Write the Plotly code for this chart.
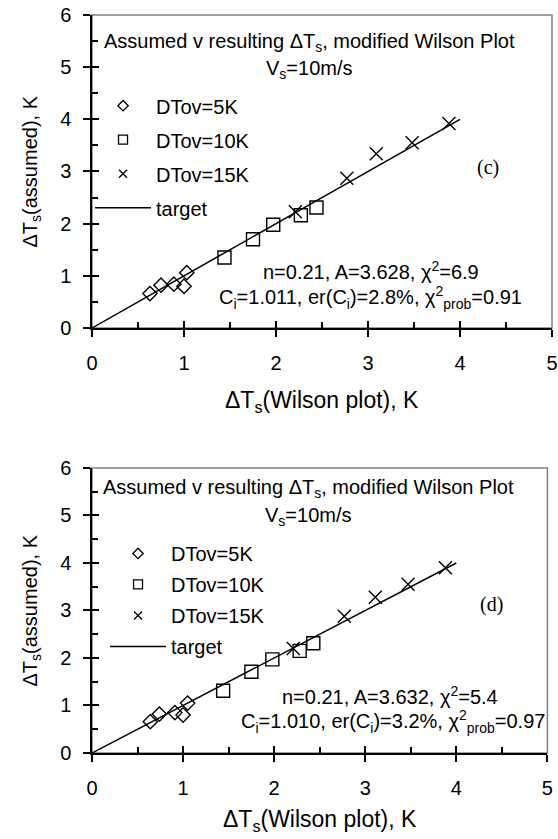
import plotly.graph_objects as go

# ---- data ----
c_5K_x = [0.63, 0.75, 0.89, 1.00, 1.03]
c_5K_y = [0.66, 0.82, 0.84, 0.80, 1.06]
c_10K_x = [1.44, 1.75, 1.97, 2.27, 2.44]
c_10K_y = [1.35, 1.70, 1.98, 2.16, 2.31]
c_15K_x = [2.21, 2.77, 3.09, 3.48, 3.88]
c_15K_y = [2.23, 2.87, 3.34, 3.55, 3.92]

d_5K_x = [0.64, 0.74, 0.91, 1.00, 1.05]
d_5K_y = [0.66, 0.82, 0.85, 0.80, 1.05]
d_10K_x = [1.44, 1.75, 1.98, 2.28, 2.43]
d_10K_y = [1.31, 1.71, 1.97, 2.15, 2.31]
d_15K_x = [2.21, 2.77, 3.11, 3.47, 3.88]
d_15K_y = [2.20, 2.88, 3.28, 3.55, 3.90]

target_x = [0, 4]
target_y = [0, 4]

series_names = ["DTov=5K", "DTov=10K", "DTov=15K", "target"]
x_ticks = [0, 1, 2, 3, 4, 5]
y_ticks = [0, 1, 2, 3, 4, 5, 6]
x_title = "ΔT<sub>s</sub>(Wilson plot), K"
y_title = "ΔT<sub>s</sub>(assumed), K"

FONT = "Arial, Liberation Sans, sans-serif"
SERIF = "Times New Roman, Liberation Serif, serif"

sym = ["diamond-open", "square-open", "x-thin-open"]
msize = [11, 13, 13]
lsize = [8, 9, 8]

fig = go.Figure()

panels = [
    dict(xa="x", ya="y", lg="legend",
         data=[(c_5K_x, c_5K_y), (c_10K_x, c_10K_y), (c_15K_x, c_15K_y)]),
    dict(xa="x2", ya="y2", lg="legend2",
         data=[(d_5K_x, d_5K_y), (d_10K_x, d_10K_y), (d_15K_x, d_15K_y)]),
]

for pi, p in enumerate(panels):
    fig.add_trace(go.Scatter(x=target_x, y=target_y, mode="lines",
                             line=dict(color="black", width=1.5),
                             name=series_names[3], legend=p["lg"],
                             legendgroup=f"p{pi}g3", showlegend=False,
                             xaxis=p["xa"], yaxis=p["ya"]))
    for i, (xs, ys) in enumerate(p["data"]):
        fig.add_trace(go.Scatter(x=xs, y=ys, mode="markers",
                                 marker=dict(symbol=sym[i], size=msize[i], color="black",
                                             line=dict(color="black", width=1.4)),
                                 showlegend=False, xaxis=p["xa"], yaxis=p["ya"]))
    for i in range(3):
        fig.add_trace(go.Scatter(x=[None], y=[None], mode="markers",
                                 marker=dict(symbol=sym[i], size=lsize[i], color="black",
                                             line=dict(color="black", width=1.3)),
                                 name=series_names[i], legend=p["lg"],
                                 legendgroup=f"p{pi}g{i}",
                                 xaxis=p["xa"], yaxis=p["ya"]))
    fig.add_trace(go.Scatter(x=[None], y=[None], mode="lines",
                             line=dict(color="black", width=1.5),
                             name=series_names[3], legend=p["lg"],
                             legendgroup=f"p{pi}g3",
                             xaxis=p["xa"], yaxis=p["ya"]))

# empty traces so the overlay tick axes get drawn
fig.add_trace(go.Scatter(x=[], y=[], xaxis="x3", yaxis="y3", showlegend=False))
fig.add_trace(go.Scatter(x=[], y=[], xaxis="x4", yaxis="y4", showlegend=False))

tickfont = dict(family=FONT, size=20, color="black")


def main_axis(rng, dom, anchor, is_x):
    return dict(range=rng, domain=dom, anchor=anchor, showline=True, linecolor="black",
                linewidth=1.5, ticks="outside", ticklen=7, tickwidth=1.5, tickcolor="black",
                tickmode="array", tickvals=x_ticks if is_x else y_ticks,
                showgrid=False, zeroline=False, tickfont=tickfont, automargin=False,
                ticklabeloverflow="allow",
                ticklabelstandoff=9 if is_x else 8, fixedrange=True)


def overlay_axis(rng, over, anchor):
    return dict(range=rng, overlaying=over, anchor=anchor, showline=False,
                ticks="inside", ticklen=7, tickwidth=1.5, tickcolor="black",
                dtick=1, tick0=0, showticklabels=False, showgrid=False, zeroline=False,
                minor=dict(ticks="inside", ticklen=6, tickwidth=1.5, tickcolor="black",
                           dtick=0.5, tick0=0, showgrid=False),
                automargin=False, fixedrange=True)


top_dom = [0.5759, 1.0]
bot_dom = [0.0, 0.3862]

legfont = dict(family=FONT, size=20, color="black")

fig.update_layout(
    width=558, height=839,
    margin=dict(l=92, r=6, t=15, b=86),
    paper_bgcolor="white", plot_bgcolor="white",
    font=dict(family=FONT, color="black"),
    xaxis=main_axis([0, 5], [0, 1.0], "y", True),
    yaxis=main_axis([0, 6], top_dom, "x", False),
    xaxis2=main_axis([0, 5], [0, 0.990], "y2", True),
    yaxis2=main_axis([0, 6], bot_dom, "x2", False),
    xaxis3=overlay_axis([0, 5], "x", "y3"),
    yaxis3=overlay_axis([0, 6], "y", "x3"),
    xaxis4=overlay_axis([0, 5], "x2", "y4"),
    yaxis4=overlay_axis([0, 6], "y2", "x4"),
    legend=dict(x=-0.0043, y=0.9035, xanchor="left", yanchor="top",
                bgcolor="rgba(0,0,0,0)", borderwidth=0, itemwidth=56,
                traceorder="grouped", tracegroupgap=5, font=legfont),
    legend2=dict(x=0.0283, y=0.2968, xanchor="left", yanchor="top",
                 bgcolor="rgba(0,0,0,0)", borderwidth=0, itemwidth=56,
                 traceorder="grouped", tracegroupgap=2, font=legfont),
    showlegend=True,
)

# gray frame (top/right borders)
for xr, yr in [("x domain", "y domain"), ("x2 domain", "y2 domain")]:
    fig.add_shape(type="rect", xref=xr, yref=yr, x0=0, x1=1, y0=0, y1=1,
                  line=dict(color="#808080", width=1.5), layer="below")

# axis titles
xtfont = dict(family=FONT, size=23, color="black")
ytfont = dict(family=FONT, size=20, color="black")
for xr, yr, ysh in [("x domain", "y domain", -74), ("x2 domain", "y2 domain", -67)]:
    fig.add_annotation(xref=xr, yref=yr, x=0.5, y=0, yshift=ysh, text=x_title,
                       showarrow=False, xanchor="center", yanchor="middle", font=xtfont)
    fig.add_annotation(xref=xr, yref=yr, x=0, y=0.5, xshift=-61, text=y_title,
                       textangle=-90, showarrow=False, xanchor="center",
                       yanchor="middle", font=ytfont)

afont = dict(family=FONT, size=20, color="black")
pfont = dict(family=SERIF, size=20, color="black")

notes = [
    ("x", "y", 2.36, 5.48, "Assumed v resulting ΔT<sub>s</sub>, modified Wilson Plot", afont),
    ("x", "y", 2.36, 4.95, "V<sub>s</sub>=10m/s", afont),
    ("x", "y", 4.30, 3.07, "(c)", pfont),
    ("x", "y", 3.03, 1.11, "n=0.21, A=3.628, χ<sup>2</sup>=6.9", afont),
    ("x", "y", 3.03, 0.59, "C<sub>i</sub>=1.011, er(C<sub>i</sub>)=2.8%, χ<sup>2</sup><sub>prob</sub>=0.91", afont),
    ("x2", "y2", 2.38, 5.56, "Assumed v resulting ΔT<sub>s</sub>, modified Wilson Plot", afont),
    ("x2", "y2", 2.38, 4.97, "V<sub>s</sub>=10m/s", afont),
    ("x2", "y2", 4.39, 3.12, "(d)", pfont),
    ("x2", "y2", 3.27, 1.22, "n=0.21, A=3.632, χ<sup>2</sup>=5.4", afont),
    ("x2", "y2", 3.30, 0.66, "C<sub>i</sub>=1.010, er(C<sub>i</sub>)=3.2%, χ<sup>2</sup><sub>prob</sub>=0.97", afont),
]
for xr, yr, x, y, t, f in notes:
    fig.add_annotation(xref=xr, yref=yr, x=x, y=y, text=t, showarrow=False,
                       xanchor="center", yanchor="middle", font=f)

fig.write_html("out.html", config={"displayModeBar": False},
               post_script="document.body.style.margin='0';document.body.style.padding='0';")
